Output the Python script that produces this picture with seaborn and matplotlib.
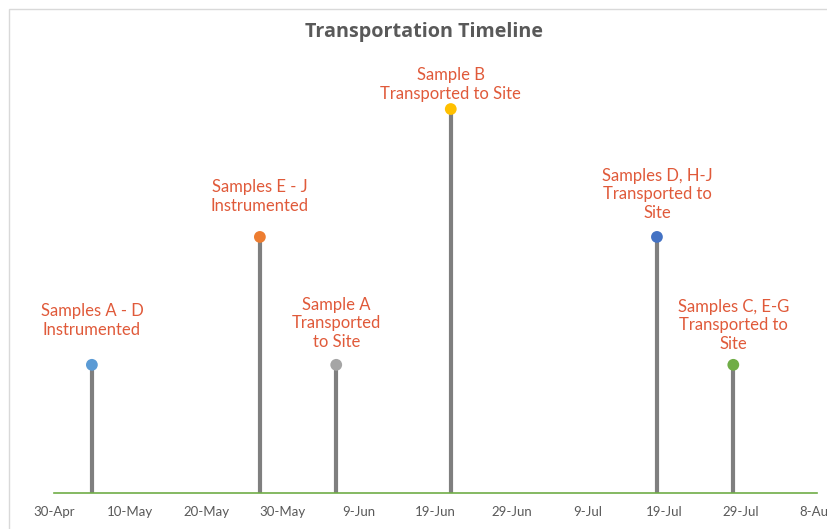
import matplotlib
matplotlib.use('Agg')
import matplotlib.pyplot as plt
from matplotlib.patches import Rectangle
import seaborn as sns
import pandas as pd

# events on the timeline
events = [
    'Samples A - D\nInstrumented',
    'Samples E - J\nInstrumented',
    'Sample A\nTransported\nto Site',
    'Sample B\nTransported to Site',
    'Samples D, H-J\nTransported to\nSite',
    'Samples C, E-G\nTransported to\nSite',
]
dates = ['2019-05-05', '2019-05-27', '2019-06-06', '2019-06-21', '2019-07-18', '2019-07-28']
levels = [1, 2, 1, 3, 2, 1]
tick_dates = pd.date_range('2019-04-30', '2019-08-08', freq='10D')
tick_labels = [f"{d.day}-{d.strftime('%b')}" for d in tick_dates]

# styling
marker_colors = ['#5b9bd5', '#ed7d31', '#a5a5a5', '#ffc000', '#4472c4', '#70ad47']
label_offsets = [27, 23, 15, 7, 16, 13]  # pixels between marker and label block
label_color = '#e05a3a'
axis_green = '#70ad47'

df = pd.DataFrame({'Event': events, 'Date': pd.to_datetime(dates), 'Level': levels})

sns.set_style('white')
plt.rcParams['font.family'] = ['Lato', 'DejaVu Sans']

fig = plt.figure(figsize=(8.28, 5.29), dpi=100)
ax = fig.add_axes([53.7 / 828, 36.3 / 529, 763.6 / 828, 447.6 / 529])

ax.vlines(df['Date'], 0, df['Level'], color='#7f7f7f', linewidth=3.0, zorder=2)
sns.scatterplot(data=df, x='Date', y='Level', hue='Event', palette=marker_colors,
                s=72, edgecolor='none', linewidth=0, legend=False, ax=ax, zorder=3)

for date, level, label, off in zip(df['Date'], df['Level'], events, label_offsets):
    ax.annotate(label, (date, level), xytext=(0, off), textcoords='offset pixels',
                ha='center', va='bottom', color=label_color, fontsize=12, linespacing=1.2)

ax.set_xlim(tick_dates[0], tick_dates[-1])
ax.set_ylim(0, 3.5)
ax.set_xticks(tick_dates)
ax.set_xticklabels(tick_labels)
ax.set_yticks([])
ax.set_xlabel('')
ax.set_ylabel('')
ax.tick_params(axis='x', direction='out', length=3.5, width=1, color=axis_green,
               labelcolor='#595959', labelsize=9.5, pad=6)
for side in ['left', 'top', 'right']:
    ax.spines[side].set_visible(False)
ax.spines['bottom'].set_color(axis_green)
ax.spines['bottom'].set_linewidth(1.2)

fig.text(424 / 828, 1 - 31.7 / 529, 'Transportation Timeline', ha='center', va='center',
         fontsize=14.2, fontweight='bold', color='#595959', family=['Open Sans', 'DejaVu Sans'])

# chart area border
fig.patches.append(Rectangle((9 / 828, -0.1), 1.0, 1.1 - 9.3 / 529, transform=fig.transFigure,
                             fill=False, edgecolor='#d9d9d9', linewidth=1))

fig.savefig('out.png', dpi=100)
